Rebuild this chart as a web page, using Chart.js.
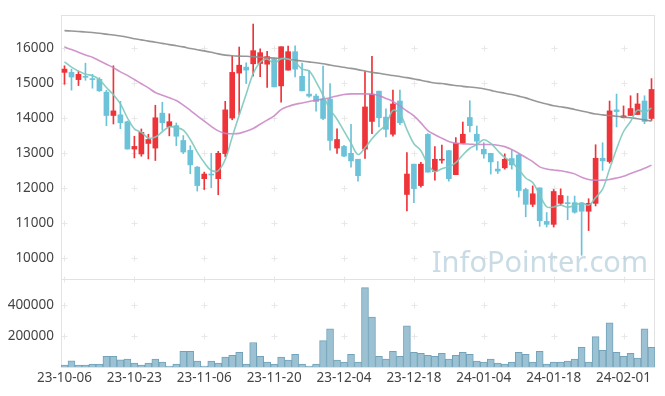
<!DOCTYPE html>
<html>
<head>
<meta charset="utf-8">
<script src="https://cdn.jsdelivr.net/npm/chart.js@4"></script>
<style>
  html, body { margin: 0; padding: 0; background: #fff; }
</style>
</head>
<body>
<canvas id="myChart" width="665" height="396"></canvas>
<script>
const dates = [
  '23-10-06', '23-10-10', '23-10-11', '23-10-12', '23-10-13', '23-10-16', '23-10-17', '23-10-18', '23-10-19', '23-10-20',
  '23-10-23', '23-10-24', '23-10-25', '23-10-26', '23-10-27', '23-10-30', '23-10-31', '23-11-01', '23-11-02', '23-11-03',
  '23-11-06', '23-11-07', '23-11-08', '23-11-09', '23-11-10', '23-11-13', '23-11-14', '23-11-15', '23-11-16', '23-11-17',
  '23-11-20', '23-11-21', '23-11-22', '23-11-23', '23-11-24', '23-11-27', '23-11-28', '23-11-29', '23-11-30', '23-12-01',
  '23-12-04', '23-12-05', '23-12-06', '23-12-07', '23-12-08', '23-12-11', '23-12-12', '23-12-13', '23-12-14', '23-12-15',
  '23-12-18', '23-12-19', '23-12-20', '23-12-21', '23-12-22', '23-12-26', '23-12-27', '23-12-28', '24-01-02', '24-01-03',
  '24-01-04', '24-01-05', '24-01-08', '24-01-09', '24-01-10', '24-01-11', '24-01-12', '24-01-15', '24-01-16', '24-01-17',
  '24-01-18', '24-01-19', '24-01-22', '24-01-23', '24-01-24', '24-01-25', '24-01-26', '24-01-29', '24-01-30', '24-01-31',
  '24-02-01', '24-02-02', '24-02-05', '24-02-06', '24-02-07'
];

const openPrices = [
  15305, 15305, 15099, 15192, 15127, 15107, 14740, 14071, 14090, 13893,
  13110, 12969, 13271, 13138, 14138, 13751, 13780, 13356, 13073, 12593,
  12263, 12395, 12263, 12980, 13997, 15285, 15455, 15551, 15559, 15540,
  15701, 14918, 15370, 15898, 15192, 14684, 14627, 14542, 14542, 13138,
  13186, 12989, 12819, 13110, 13901, 14768, 14025, 13534, 14486, 11811,
  12678, 12065, 13530, 12471, 12791, 13065, 12376, 13280, 14014, 13534,
  13102, 12989, 12537, 12573, 12839, 12941, 11952, 11528, 12000, 11039,
  10955, 11556, 11576, 11576, 11556, 11330, 11556, 12847, 12754, 14232,
  14014, 14071, 14099, 14486, 13986
];
const closePrices = [
  15399, 15172, 15249, 15164, 15099, 14777, 14071, 14203, 13864, 13110,
  13186, 13590, 13384, 14006, 13864, 13893, 13477, 13025, 12658, 12065,
  12395, 12367, 12989, 14232, 15305, 15511, 15370, 15927, 15870, 15757,
  14890, 16040, 15898, 15398, 14777, 14627, 14472, 13986, 13356, 13384,
  12910, 12771, 12347, 14316, 14684, 14006, 13675, 14401, 13864, 12395,
  11980, 12678, 12450, 12819, 12819, 12263, 13271, 13534, 13780, 13336,
  12969, 12743, 12480, 12819, 12658, 11924, 11528, 11830, 11059, 10955,
  11895, 11782, 11548, 11302, 11330, 11556, 12847, 12771, 14203, 14184,
  14062, 14269, 14401, 13901, 14816
];
const highPrices = [
  15494, 15398, 15342, 15568, 15249, 15155, 14797, 15494, 14477, 13912,
  13477, 13686, 13534, 14364, 14449, 14119, 13856, 13497, 13206, 12613,
  12452, 12989, 13045, 14477, 15766, 16031, 15579, 16689, 15983, 15907,
  15720, 16040, 16060, 16068, 15568, 15362, 14684, 15483, 14986, 13686,
  13215, 13816, 12819, 15325, 15766, 14768, 14260, 14797, 14797, 13008,
  12678, 12734, 13554, 13178, 13223, 13073, 13441, 13884, 14494, 13771,
  13291, 12989, 12754, 12974, 13073, 12960, 11991, 12056, 12000, 11294,
  11952, 11972, 11765, 11765, 11576, 11689, 13234, 13291, 14486, 14684,
  14345, 14636, 14703, 14636, 15127
];
const lowPrices = [
  14966, 14797, 14929, 15079, 14853, 14760, 13780, 13828, 13695, 13110,
  12856, 12904, 12828, 12782, 13647, 13489, 13206, 12980, 12404, 11907,
  11952, 12000, 11802, 12895, 13949, 14099, 14986, 15200, 15184, 14873,
  14890, 14449, 15370, 15172, 14777, 14599, 14195, 13949, 13082, 12989,
  12895, 12593, 12189, 12839, 13554, 13743, 13460, 13477, 13808, 11342,
  11576, 12020, 12450, 12217, 12706, 12189, 12376, 13280, 13601, 13082,
  12847, 12395, 12410, 12537, 12537, 11737, 11172, 11463, 10898, 10878,
  10878, 11500, 11087, 11274, 10070, 10777, 11483, 12500, 12706, 13743,
  14006, 14071, 14099, 13836, 13929
];
const volumes = [
  12700, 40200, 12700, 12700, 19000, 19000, 69800, 69800, 46600, 50800,
  25400, 12700, 25400, 50800, 31700, 6300, 19000, 101600, 101600, 38100,
  6300, 38100, 25400, 63500, 76200, 95200, 19000, 158700, 69800, 31700,
  19000, 63500, 44400, 82500, 19000, 6300, 19000, 171400, 247600, 44400,
  31700, 82500, 31700, 514200, 323700, 69800, 50800, 101600, 69800, 266600,
  95200, 88900, 76200, 69800, 88900, 50800, 76200, 95200, 82500, 38100,
  31700, 50800, 25400, 19000, 31700, 95200, 82500, 31700, 101600, 19000,
  31700, 31700, 38100, 50800, 127000, 31700, 196800, 107900, 285700, 95200,
  69800, 88900, 57100, 247600, 127000
];
const ma5 = [
  15607, 15455, 15342, 15249, 15217, 15092, 14872, 14663, 14403, 14005,
  13687, 13591, 13427, 13455, 13606, 13747, 13725, 13653, 13383, 13024,
  12724, 12502, 12495, 12810, 13458, 14081, 14681, 15269, 15597, 15687,
  15563, 15697, 15691, 15597, 15401, 15348, 15034, 14652, 14244, 13965,
  13622, 13281, 12954, 13146, 13406, 13625, 13806, 14216, 14126, 13668,
  13263, 13064, 12673, 12464, 12549, 12606, 12724, 12941, 13133, 13237,
  13378, 13272, 13062, 12869, 12734, 12525, 12282, 12152, 11800, 11459,
  11453, 11504, 11448, 11496, 11571, 11504, 11717, 11961, 12541, 13112,
  13613, 13898, 14224, 14163, 14290
];
const ma20 = [
  16030, 15960, 15880, 15800, 15740, 15640, 15540, 15440, 15320, 15220,
  15100, 14980, 14860, 14730, 14650, 14580, 14500, 14370, 14220, 14060,
  13910, 13760, 13630, 13560, 13550, 13560, 13620, 13700, 13820, 13940,
  14060, 14240, 14330, 14390, 14430, 14470, 14510, 14540, 14580, 14630,
  14670, 14690, 14690, 14690, 14680, 14640, 14560, 14470, 14340, 14200,
  14060, 13860, 13640, 13520, 13420, 13330, 13280, 13260, 13250, 13240,
  13240, 13240, 13220, 13180, 13100, 12990, 12870, 12750, 12600, 12540,
  12510, 12490, 12450, 12400, 12300, 12240, 12220, 12220, 12240, 12280,
  12330, 12410, 12480, 12560, 12650
];
const ma60 = [
  16500, 16488, 16475, 16462, 16445, 16425, 16400, 16375, 16345, 16310,
  16270, 16235, 16200, 16170, 16135, 16100, 16070, 16035, 15990, 15955,
  15920, 15880, 15835, 15800, 15780, 15770, 15765, 15755, 15740, 15725,
  15715, 15700, 15680, 15655, 15630, 15605, 15580, 15550, 15515, 15480,
  15450, 15420, 15385, 15345, 15305, 15280, 15245, 15215, 15185, 15155,
  15115, 15080, 15040, 15000, 14985, 14955, 14930, 14905, 14885, 14865,
  14835, 14790, 14745, 14710, 14670, 14625, 14575, 14510, 14450, 14400,
  14350, 14320, 14290, 14245, 14200, 14155, 14115, 14090, 14070, 14050,
  14030, 14005, 13980, 13945, 13910
];
const priceTicks = [10000, 11000, 12000, 13000, 14000, 15000, 16000];
const volumeTicks = [200000, 400000];

const upColor = '#ee3339';
const downColor = '#6cc3d9';
const candleColors = openPrices.map((o, i) => closePrices[i] >= o ? upColor : downColor);
const tickFont = { family: '"Noto Sans", sans-serif', size: 13.5 };

// light "+" marks where grid lines would cross, plus the panel frame
const frameAndCrosses = {
  id: 'frameAndCrosses',
  beforeDatasetsDraw(chart) {
    const { ctx, chartArea, scales } = chart;
    ctx.save();
    ctx.strokeStyle = '#e8e8e8';
    ctx.lineWidth = 1;
    const xs = [];
    for (let i = 0; i < dates.length; i += 10) xs.push(Math.round(scales.x.getPixelForValue(i)) + 0.5);
    const ys = priceTicks.map(v => scales.y.getPixelForValue(v))
      .concat(volumeTicks.map(v => scales.yVol.getPixelForValue(v)));
    ys.push(scales.yVol.top);
    ctx.beginPath();
    xs.forEach(x => ys.forEach(y => {
      y = Math.round(y) + 0.5;
      ctx.moveTo(x - 3, y); ctx.lineTo(x + 3, y);
      ctx.moveTo(x, y - 3); ctx.lineTo(x, y + 3);
    }));
    ctx.stroke();

    ctx.strokeStyle = '#e2e2e2';
    ctx.strokeRect(Math.round(chartArea.left) + 0.5, Math.round(chartArea.top) + 0.5,
      Math.round(chartArea.width) - 1, Math.round(chartArea.height));
    const sep = Math.round(scales.yVol.top) + 0.5;
    ctx.beginPath();
    ctx.moveTo(chartArea.left, sep); ctx.lineTo(chartArea.right, sep);
    ctx.stroke();

    // watermark
    ctx.fillStyle = 'rgba(165, 195, 210, 0.6)';
    ctx.font = '29px "Noto Sans", sans-serif';
    ctx.textAlign = 'right';
    ctx.textBaseline = 'alphabetic';
    ctx.fillText('InfoPointer.com', chartArea.right - 7, scales.y.bottom - 7);
    ctx.restore();
  }
};

const maLine = (label, data, color) => ({
  type: 'line', label, data, yAxisID: 'y',
  borderColor: color, borderWidth: 1.6, pointRadius: 0, tension: 0.35, order: 0
});

new Chart(document.getElementById('myChart'), {
  data: {
    labels: dates,
    datasets: [
      maLine('MA5', ma5, 'rgba(125, 200, 188, 0.9)'),
      maLine('MA20', ma20, 'rgba(200, 130, 195, 0.85)'),
      maLine('MA60', ma60, 'rgba(140, 140, 140, 0.9)'),
      {
        type: 'bar', label: 'body', yAxisID: 'y',
        data: openPrices.map((o, i) => [o, closePrices[i]]),
        backgroundColor: candleColors, barThickness: 5, grouped: false, order: 1
      },
      {
        type: 'bar', label: 'wick', yAxisID: 'y',
        data: lowPrices.map((l, i) => [l, highPrices[i]]),
        backgroundColor: candleColors, barThickness: 1, grouped: false, order: 2
      },
      {
        type: 'bar', label: 'volume', yAxisID: 'yVol',
        data: volumes,
        backgroundColor: '#9bc1d2', borderColor: '#72a3ba', borderWidth: 1,
        barPercentage: 1, categoryPercentage: 1, grouped: false, order: 2
      }
    ]
  },
  options: {
    responsive: false,
    animation: false,
    devicePixelRatio: 1,
    layout: { padding: { top: 10, right: 10, left: 0, bottom: 0 } },
    plugins: { legend: { display: false }, tooltip: { enabled: false } },
    scales: {
      x: {
        type: 'category', offset: true,
        grid: { display: false, drawTicks: false }, border: { display: false },
        ticks: {
          autoSkip: false, maxRotation: 0, padding: 3, color: '#444', font: tickFont,
          callback: (v, i) => i % 10 === 0 ? dates[i] : ''
        },
        afterFit: s => { s.height = 29; }
      },
      yVol: {
        position: 'left', stack: 'panels', stackWeight: 1, min: 0, max: 570000,
        afterBuildTicks: s => { s.ticks = volumeTicks.map(v => ({ value: v })); },
        grid: { display: false, drawTicks: false }, border: { display: false },
        ticks: { padding: 7, color: '#444', font: tickFont, callback: v => String(v) },
        afterFit: s => { s.width = 61; }
      },
      y: {
        position: 'left', stack: 'panels', stackWeight: 3, min: 9390, max: 16945,
        afterBuildTicks: s => { s.ticks = priceTicks.map(v => ({ value: v })); },
        grid: { display: false, drawTicks: false }, border: { display: false },
        ticks: { padding: 7, color: '#444', font: tickFont, callback: v => String(v) },
        afterFit: s => { s.width = 61; }
      }
    }
  },
  plugins: [frameAndCrosses]
});
</script>
</body>
</html>
